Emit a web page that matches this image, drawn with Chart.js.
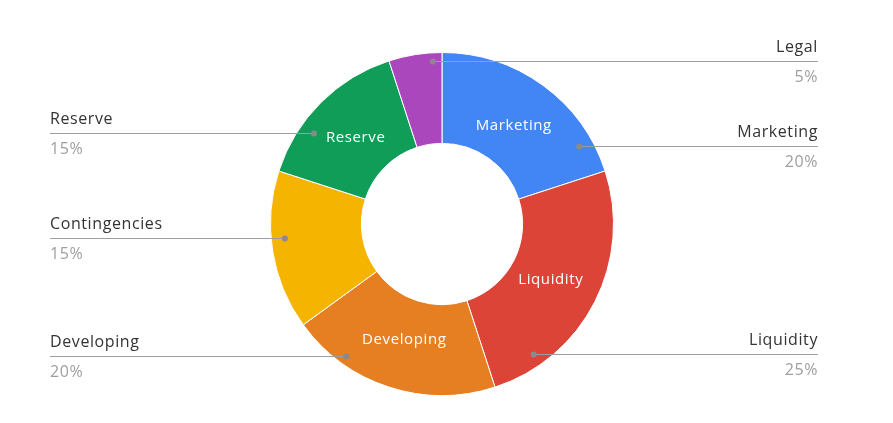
<!DOCTYPE html>
<html>
<head>
<meta charset="utf-8">
<script src="https://cdn.jsdelivr.net/npm/chart.js@4"></script>
<style>
  html, body { margin: 0; padding: 0; background: #fff; }
  #wrap { width: 893px; height: 423px; }
</style>
</head>
<body>
<div id="wrap"><canvas id="donut" width="893" height="423"></canvas></div>
<script>
const labels = ['Marketing', 'Liquidity', 'Developing', 'Contingencies', 'Reserve', 'Legal'];
const values = [20, 25, 20, 15, 15, 5];
const colors = ['#4285F4', '#DB4437', '#E67E22', '#F4B400', '#0F9D58', '#AB47BC'];
// where along each slice the leader dot sits (0 = slice start, 1 = end), how far out, and which side the text goes
const dotFrac = [0.84, 0.81, 0.75, 0.57, 0.32, 0.82];
const dotR = [0.92, 0.93, 0.95, 0.92, 0.915, 0.95];
const side = ['right', 'right', 'left', 'left', 'left', 'right'];

const FONT = '"Open Sans", sans-serif';

const leaderLabels = {
    id: 'leaderLabels',
    afterDatasetsDraw(chart) {
        const ctx = chart.ctx;
        const meta = chart.getDatasetMeta(0);
        const total = values.reduce((a, b) => a + b, 0);
        const leftX = 50, rightX = 818;
        ctx.save();
        ctx.letterSpacing = '0.6px';
        meta.data.forEach((arc, i) => {
            const { x, y, startAngle, endAngle, innerRadius, outerRadius } = arc.getProps(['x', 'y', 'startAngle', 'endAngle', 'innerRadius', 'outerRadius'], true);
            // inner label
            const mid = (startAngle + endAngle) / 2;
            const midR = (innerRadius + outerRadius) / 2;
            ctx.font = '15px ' + FONT;
            const tw = ctx.measureText(labels[i]).width;
            const arcLen = midR * (endAngle - startAngle);
            if (tw < arcLen * 0.75) {
                ctx.fillStyle = '#ffffff';
                ctx.textAlign = 'center'; ctx.textBaseline = 'middle';
                ctx.fillText(labels[i], x + Math.cos(mid) * (midR - 4), y + Math.sin(mid) * (midR - 4));
            }
            // leader dot + line
            const a = startAngle + (endAngle - startAngle) * dotFrac[i];
            const r = outerRadius * dotR[i];
            const dx = x + Math.cos(a) * r, dy = Math.round(y + Math.sin(a) * r) + 0.5;
            const left = side[i] === 'left';
            ctx.strokeStyle = '#9e9e9e'; ctx.lineWidth = 1;
            ctx.beginPath();
            ctx.moveTo(left ? leftX : dx, dy);
            ctx.lineTo(left ? dx : rightX, dy);
            ctx.stroke();
            ctx.fillStyle = '#8a8a8a';
            ctx.beginPath(); ctx.arc(dx, dy, 3, 0, Math.PI * 2); ctx.fill();
            // outer texts
            const tx = left ? leftX : rightX;
            ctx.textAlign = left ? 'left' : 'right';
            ctx.textBaseline = 'middle';
            ctx.font = '16px ' + FONT;
            ctx.fillStyle = '#333333';
            ctx.fillText(labels[i], tx, dy - 14);
            ctx.fillStyle = '#9e9e9e';
            ctx.fillText(Math.round(values[i] / total * 100) + '%', tx, dy + 16);
        });
        ctx.restore();
    }
};

new Chart(document.getElementById('donut'), {
    type: 'doughnut',
    data: {
        labels: labels,
        datasets: [{ data: values, backgroundColor: colors, borderColor: '#ffffff', borderWidth: 1 }]
    },
    options: {
        responsive: false, animation: false, cutout: '47%',
        layout: { padding: { top: 52, bottom: 27, left: 0, right: 9 } },
        plugins: { legend: { display: false }, tooltip: { enabled: false } }
    },
    plugins: [leaderLabels]
});
</script>
</body>
</html>
